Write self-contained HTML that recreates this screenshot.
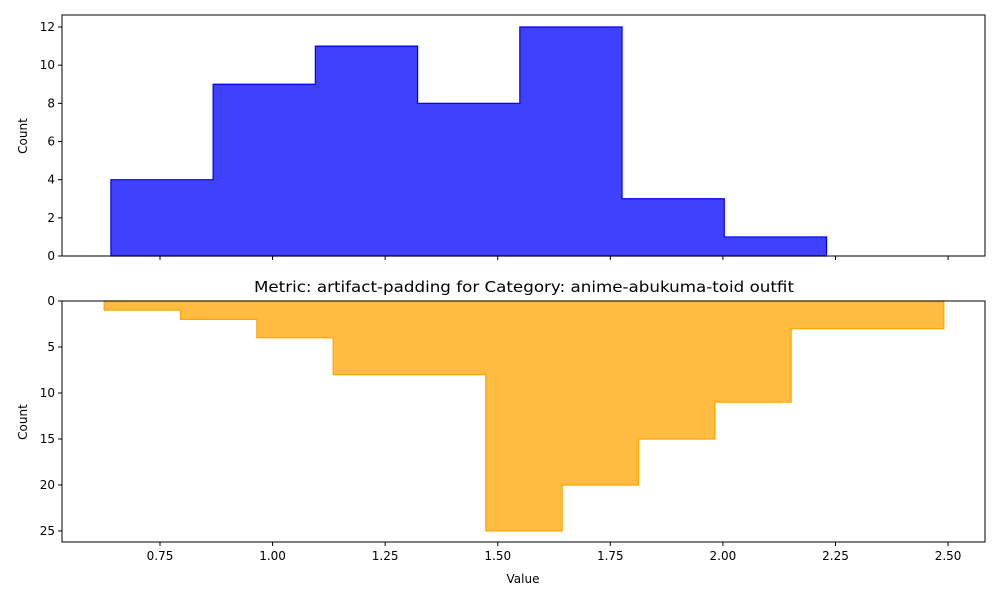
<!DOCTYPE html>
<html><head><meta charset="utf-8"><style>
body{margin:0;background:#fff;font-family:"Liberation Sans","DejaVu Sans",sans-serif}
svg text{font-family:"DejaVu Sans","Liberation Sans",sans-serif;fill:#000}
</style></head><body>
<svg id="chart" width="1000" height="600" xmlns="http://www.w3.org/2000/svg"></svg>
<script>
const topEdges0 = 0.641, topWidth = 0.2270;
const topCounts = [4, 9, 11, 8, 12, 3, 1];
const botEdges0 = 0.626, botWidth = 0.1695;
const botCounts = [1, 2, 4, 8, 8, 25, 20, 15, 11, 3, 3];
const xTicks = [0.75, 1.00, 1.25, 1.50, 1.75, 2.00, 2.25, 2.50];
const topYTicks = [0, 2, 4, 6, 8, 10, 12];
const botYTicks = [0, 5, 10, 15, 20, 25];
const titleText = "Metric: artifact-padding for Category: anime-abukuma-toid outfit";

const svg = document.getElementById('chart');
const NS = "http://www.w3.org/2000/svg";
function el(tag, attrs, parent){const e=document.createElementNS(NS,tag);for(const k in attrs)e.setAttribute(k,attrs[k]);(parent||svg).appendChild(e);return e;}
const L=62,R=985;
const xMin=0.5324,xMax=2.582;
const X=v=>L+(v-xMin)/(xMax-xMin)*(R-L);
const T={top:15,bot:256,max:12.63};
const B={top:301,bot:542,max:26.2};
const YT=v=>T.bot-v/T.max*(T.bot-T.top);
const YB=v=>B.top+v/B.max*(B.bot-B.top);

function stepPath(e0,w,counts,Y){
  let d=`M${X(e0)},${Y(0)}`;
  counts.forEach((c,i)=>{d+=` L${X(e0+i*w)},${Y(c)} L${X(e0+(i+1)*w)},${Y(c)}`;});
  d+=` L${X(e0+counts.length*w)},${Y(0)} Z`;
  return d;
}
let p=el('path',{d:stepPath(topEdges0,topWidth,topCounts,YT),fill:'rgba(0,0,255,0.75)',stroke:'#0000ff','stroke-width':1.2});


p=el('path',{d:stepPath(botEdges0,botWidth,botCounts,YB),fill:'rgba(255,165,0,0.75)',stroke:'#ffa500','stroke-width':1.2});



let r=el('rect',{x:L,y:T.top,width:R-L,height:T.bot-T.top,fill:'none',stroke:'#000','stroke-width':1});


r=el('rect',{x:L,y:B.top,width:R-L,height:B.bot-B.top,fill:'none',stroke:'#000','stroke-width':1});



xTicks.forEach(v=>{
  el('line',{x1:X(v),x2:X(v),y1:T.bot,y2:T.bot+4,stroke:'#000'});
  el('line',{x1:X(v),x2:X(v),y1:B.bot,y2:B.bot+4,stroke:'#000'});
  const t=el('text',{x:X(v),y:B.bot+18,'text-anchor':'middle','font-size':12});
  t.textContent=v.toFixed(2);
  
  
});
topYTicks.forEach(v=>{
  el('line',{x1:L-4,x2:L,y1:YT(v),y2:YT(v),stroke:'#000'});
  const t=el('text',{x:L-7,y:YT(v)+4,'text-anchor':'end','font-size':12});
  t.textContent=v;
  
  
});
botYTicks.forEach(v=>{
  el('line',{x1:L-4,x2:L,y1:YB(v),y2:YB(v),stroke:'#000'});
  const t=el('text',{x:L-7,y:YB(v)+4,'text-anchor':'end','font-size':12});
  t.textContent=v;
  
  
});
let t=el('text',{x:27,y:136,'text-anchor':'middle','font-size':12,transform:'rotate(-90 27 136)'});
t.textContent='Count';


t=el('text',{x:27,y:422,'text-anchor':'middle','font-size':12,transform:'rotate(-90 27 422)'});
t.textContent='Count';


t=el('text',{x:523,y:583,'text-anchor':'middle','font-size':12});
t.textContent='Value';


t=el('text',{x:524,y:292,'text-anchor':'middle','font-size':15.5,textLength:540,lengthAdjust:'spacingAndGlyphs'});
t.textContent=titleText;


</script>
</body></html>
